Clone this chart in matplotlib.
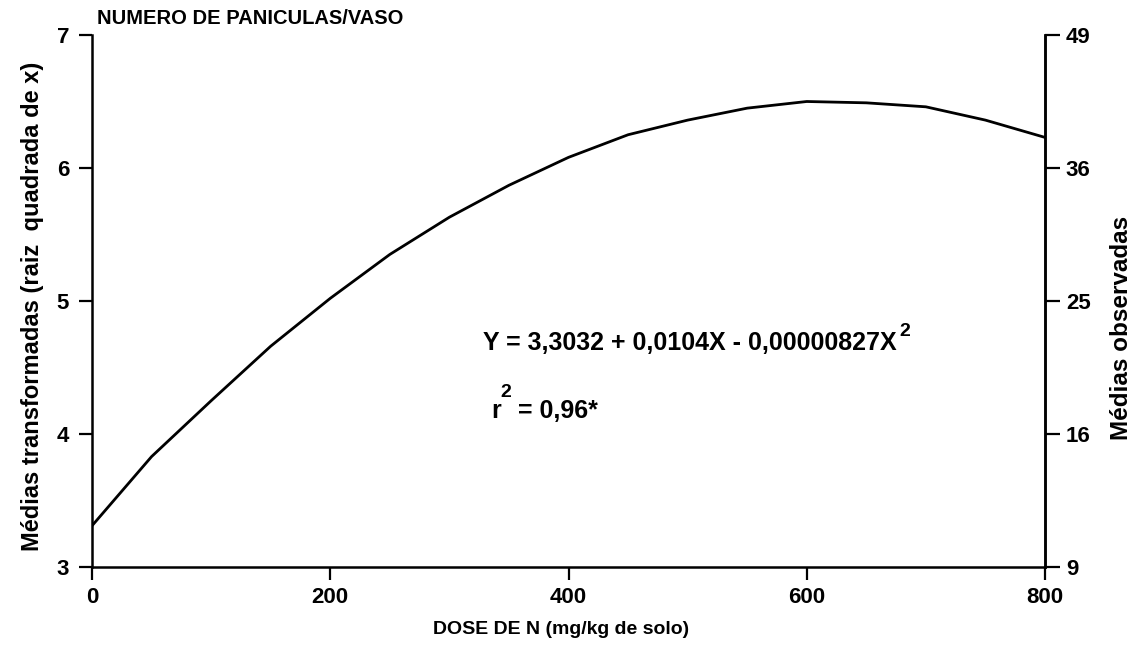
import matplotlib as mpl
import matplotlib.pyplot as plt
import numpy as np

mpl.rcParams['font.family'] = ['Liberation Sans', 'DejaVu Sans']
mpl.rcParams['font.weight'] = 'bold'

# curve (transformed means, sqrt of x)
dose = [0, 50, 100, 150, 200, 250, 300, 350, 400, 450, 500, 550, 600, 650, 700, 750, 800]
media = [3.31, 3.83, 4.25, 4.66, 5.02, 5.35, 5.63, 5.87, 6.08, 6.25, 6.36, 6.45, 6.50, 6.49, 6.46, 6.36, 6.23]

left_ticks = [3, 4, 5, 6, 7]
right_labels = [9, 16, 25, 36, 49]
x_ticks = [0, 200, 400, 600, 800]

W, H = 1142, 659
fig = plt.figure(figsize=(W / 100, H / 100), dpi=100)
ax = fig.add_axes([92 / W, 1 - 567 / H, (1045 - 92) / W, (567 - 35) / H])

ax.plot(dose, media, color='black', lw=2)
ax.set_xlim(0, 800)
ax.set_ylim(3, 7)
ax.set_xticks(x_ticks)
ax.set_yticks(left_ticks)
ax.tick_params(direction='out', length=9.5, width=1.6, labelsize=16, pad=5)
ax.tick_params(axis='y', pad=7)
for s in ['left', 'bottom', 'right']:
    ax.spines[s].set_linewidth(1.8)
ax.spines['top'].set_visible(False)

# right axis: observed means, placed at their square roots
ax2 = ax.twinx()
ax2.set_ylim(3, 7)
ax2.set_yticks(np.sqrt(right_labels))
ax2.set_yticklabels([str(v) for v in right_labels])
ax2.tick_params(direction='out', length=11, width=1.6, labelsize=16, pad=4)
ax2.spines['right'].set_linewidth(1.8)
ax2.spines['top'].set_visible(False)
ax2.spines['left'].set_visible(False)
ax2.spines['bottom'].set_visible(False)

fig.text(97 / W, 1 - 19 / H, 'NUMERO DE PANICULAS/VASO', fontsize=14.5,
         fontweight='bold', ha='left', va='center')
fig.text(33 / W, 1 - 306 / H, 'Médias transformadas (raiz  quadrada de x)',
         rotation=90, fontsize=17, fontweight='bold', ha='center', va='center')
fig.text(1122 / W, 1 - 328 / H, 'Médias observadas', rotation=90,
         fontsize=17.5, fontweight='bold', ha='center', va='center')
fig.text(561 / W, 1 - 630 / H, 'DOSE DE N (mg/kg de solo)', fontsize=14,
         fontweight='bold', ha='center', va='center')

ax.text(328, 4.63, 'Y = 3,3032 + 0,0104X - 0,00000827X', fontsize=18,
        fontweight='bold', ha='left', va='baseline')
ax.text(678, 4.74, '2', fontsize=14, fontweight='bold', ha='left', va='baseline')
ax.text(335, 4.12, 'r', fontsize=18, fontweight='bold', ha='left', va='baseline')
ax.text(343, 4.28, '2', fontsize=14, fontweight='bold', ha='left', va='baseline')
ax.text(358, 4.12, '= 0,96*', fontsize=18, fontweight='bold', ha='left', va='baseline')

fig.savefig('out.png', dpi=100)
